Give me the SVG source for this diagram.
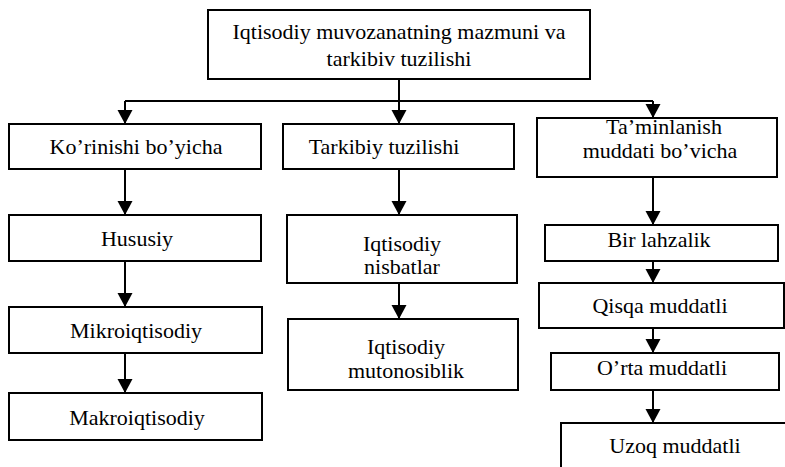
<svg xmlns="http://www.w3.org/2000/svg" width="785" height="467" viewBox="0 0 785 467">
<defs>
<style>
.box{fill:#fff;stroke:#000;stroke-width:2}
.t{font-family:'Liberation Serif','Times New Roman','DejaVu Serif',serif;font-size:22px;fill:#000;text-anchor:middle}
.c{fill:none;stroke:#000;stroke-width:2}
</style>
<marker id="ah" markerUnits="userSpaceOnUse" markerWidth="16" markerHeight="16" refX="14" refY="7.5" orient="auto">
<path d="M0,0 L14,7.5 L0,15 Z" fill="#000"/>
</marker>
</defs>
<rect width="785" height="467" fill="#fff"/>
<g id="connectors">
<path class="c" d="M399,79 V101"/>
<path class="c" d="M125,101 H653"/>
<path class="c" d="M125,101 V124" marker-end="url(#ah)"/>
<path class="c" d="M399,101 V124" marker-end="url(#ah)"/>
<path class="c" d="M653,101 V118" marker-end="url(#ah)"/>
<path class="c" d="M125,169 V215" marker-end="url(#ah)"/>
<path class="c" d="M125,261 V307" marker-end="url(#ah)"/>
<path class="c" d="M125,353 V393" marker-end="url(#ah)"/>
<path class="c" d="M399,169 V215" marker-end="url(#ah)"/>
<path class="c" d="M399,283 V319" marker-end="url(#ah)"/>
<path class="c" d="M653,177 V225" marker-end="url(#ah)"/>
<path class="c" d="M653,261 V283" marker-end="url(#ah)"/>
<path class="c" d="M653,328 V353" marker-end="url(#ah)"/>
<path class="c" d="M653,390 V423" marker-end="url(#ah)"/>
</g>
<g id="n-top"><rect class="box" x="208" y="10" width="382" height="69"/>
<text class="t" x="399" y="39">Iqtisodiy muvozanatning mazmuni va</text>
<text class="t" x="399" y="66">tarkibiv tuzilishi</text></g>
<g id="n-korinishi"><rect class="box" x="9" y="124" width="252" height="45"/><text class="t" x="136" y="154">Ko’rinishi bo’yicha</text></g>
<g id="n-hususiy"><rect class="box" x="9" y="215" width="252" height="46"/><text class="t" x="137" y="246">Hususiy</text></g>
<g id="n-mikro"><rect class="box" x="9" y="307" width="253" height="46"/><text class="t" x="136" y="338">Mikroiqtisodiy</text></g>
<g id="n-makro"><rect class="box" x="9" y="393" width="253" height="47"/><text class="t" x="137" y="425">Makroiqtisodiy</text></g>
<g id="n-tarkibiy"><rect class="box" x="283" y="124" width="231" height="45"/><text class="t" x="384" y="154">Tarkibiy tuzilishi</text></g>
<g id="n-nisbatlar"><rect class="box" x="287" y="215" width="230" height="68"/><text class="t" x="402" y="251">Iqtisodiy</text><text class="t" x="402" y="274">nisbatlar</text></g>
<g id="n-mutonosiblik"><rect class="box" x="288" y="319" width="230" height="71"/><text class="t" x="406" y="354">Iqtisodiy</text><text class="t" x="406" y="378">mutonosiblik</text></g>
<g id="n-taminlanish"><rect class="box" x="537" y="118" width="240" height="59"/><text class="t" x="664" y="134">Ta’minlanish</text><text class="t" x="660" y="158">muddati bo’vicha</text></g>
<g id="n-bir"><rect class="box" x="545" y="225" width="233" height="36"/><text class="t" x="659" y="247">Bir lahzalik</text></g>
<g id="n-qisqa"><rect class="box" x="539" y="283" width="245" height="45"/><text class="t" x="660" y="313">Qisqa muddatli</text></g>
<g id="n-orta"><rect class="box" x="551" y="353" width="228" height="37"/><text class="t" x="662" y="375">O’rta muddatli</text></g>
<g id="n-uzoq"><rect class="box" x="561" y="423" width="240" height="60"/><text class="t" x="675" y="453">Uzoq muddatli</text></g>
</svg>
